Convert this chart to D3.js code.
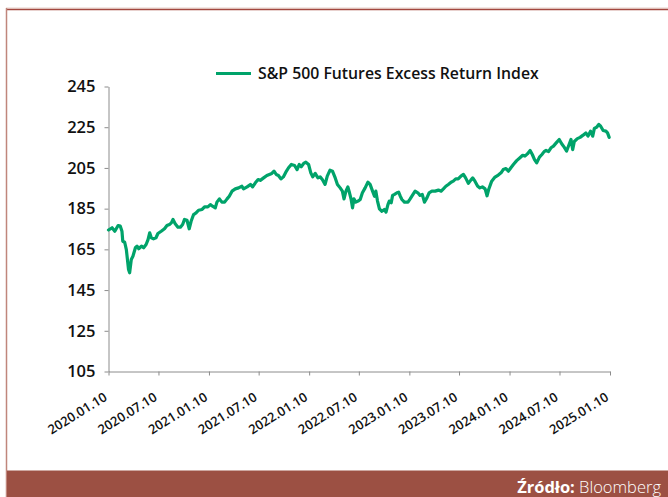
<!DOCTYPE html>
<html lang="pl">
<head>
<meta charset="UTF-8">
<title>S&amp;P 500 Futures Excess Return Index</title>
<style>
  body { margin: 0; background: #fff; }
  .axis path, .axis line { stroke: #8c8c8c; }
  .axis text { fill: #111; font-family: "Open Sans", sans-serif; }
</style>
</head>
<body>
<svg width="668" height="497"></svg>

<script src="https://d3js.org/d3.v7.min.js"></script>
<script>

// weekly-ish closes
var dates = [
  "2020-01-10","2020-01-23","2020-02-02","2020-02-14","2020-02-22","2020-02-28","2020-03-02","2020-03-09",
  "2020-03-15","2020-03-23","2020-03-27","2020-04-02","2020-04-08","2020-04-17","2020-04-23","2020-04-29",
  "2020-05-09","2020-05-17","2020-05-26","2020-06-02","2020-06-08","2020-06-14","2020-06-22","2020-07-01",
  "2020-07-08","2020-07-20","2020-08-01","2020-08-10","2020-08-19","2020-08-26","2020-09-01","2020-09-09",
  "2020-09-19","2020-09-28","2020-10-06","2020-10-13","2020-10-22","2020-10-30","2020-11-06","2020-11-15",
  "2020-11-24","2020-12-03","2020-12-16","2020-12-25","2021-01-06","2021-01-15","2021-01-23","2021-02-02",
  "2021-02-08","2021-02-17","2021-02-26","2021-03-08","2021-03-17","2021-03-25","2021-04-04","2021-04-16",
  "2021-04-28","2021-05-10","2021-05-16","2021-05-29","2021-06-10","2021-06-18","2021-06-28","2021-07-08",
  "2021-07-16","2021-07-28","2021-08-09","2021-08-18","2021-08-27","2021-09-04","2021-09-12","2021-09-20",
  "2021-09-29","2021-10-08","2021-10-17","2021-10-27","2021-11-06","2021-11-18","2021-11-27","2021-12-05",
  "2021-12-12","2021-12-21","2021-12-29","2022-01-08","2022-01-16","2022-01-23","2022-02-01","2022-02-11",
  "2022-02-19","2022-02-27","2022-03-09","2022-03-17","2022-03-27","2022-04-05","2022-04-15","2022-04-23",
  "2022-05-03","2022-05-11","2022-05-17","2022-05-24","2022-05-31","2022-06-06","2022-06-12","2022-06-17",
  "2022-06-22","2022-06-29","2022-07-07","2022-07-15","2022-07-23","2022-08-02","2022-08-12","2022-08-20",
  "2022-08-29","2022-09-05","2022-09-10","2022-09-16","2022-09-23","2022-10-02","2022-10-11","2022-10-17",
  "2022-10-24","2022-10-29","2022-11-05","2022-11-10","2022-11-17","2022-11-26","2022-12-02","2022-12-08",
  "2022-12-14","2022-12-23","2023-01-05","2023-01-13","2023-01-21","2023-01-31","2023-02-10","2023-02-18",
  "2023-02-26","2023-03-06","2023-03-15","2023-03-23","2023-04-02","2023-04-14","2023-04-26","2023-05-06",
  "2023-05-14","2023-05-23","2023-06-01","2023-06-11","2023-06-19","2023-06-28","2023-07-07","2023-07-17",
  "2023-07-26","2023-08-03","2023-08-13","2023-08-22","2023-08-29","2023-09-06","2023-09-16","2023-09-24",
  "2023-10-03","2023-10-13","2023-10-20","2023-10-26","2023-11-06","2023-11-18","2023-11-30","2023-12-10",
  "2023-12-18","2023-12-28","2024-01-06","2024-01-15","2024-01-24","2024-02-05","2024-02-17","2024-02-27",
  "2024-03-06","2024-03-15","2024-03-25","2024-04-02","2024-04-10","2024-04-18","2024-04-28","2024-05-07",
  "2024-05-15","2024-05-22","2024-05-31","2024-06-09","2024-06-18","2024-06-28","2024-07-09","2024-07-18",
  "2024-07-27","2024-08-05","2024-08-15","2024-08-21","2024-08-27","2024-09-02","2024-09-13","2024-09-23",
  "2024-10-04","2024-10-14","2024-10-22","2024-10-31","2024-11-08","2024-11-14","2024-11-23","2024-11-30",
  "2024-12-07","2024-12-16","2024-12-26","2025-01-01","2025-01-07"
];

var indexValues = [
  174.5,175.6,173.9,176.7,176.4,173.9,169.0,168.5,
  164.9,155.1,153.5,160.0,161.6,165.8,166.6,165.3,
  166.6,165.8,167.4,169.8,173.1,170.7,170.2,170.7,
  172.8,173.9,175.1,176.7,177.2,178.0,179.7,177.6,
  175.9,175.9,177.2,179.7,179.3,175.1,178.8,182.1,
  182.9,184.2,184.6,185.9,185.9,187.0,186.2,185.4,
  188.2,189.8,188.2,188.2,189.8,191.1,193.6,194.7,
  195.2,196.0,194.7,195.7,196.9,195.7,197.7,199.3,
  198.9,200.1,201.3,201.8,202.3,203.4,201.8,201.3,
  199.6,200.6,202.9,205.1,206.7,206.2,204.2,206.7,
  205.6,207.2,207.8,206.7,202.6,200.6,202.3,200.1,
  200.6,199.3,196.9,201.0,203.9,203.4,200.1,196.9,
  195.2,193.6,189.8,193.6,195.7,192.8,189.5,185.4,
  189.8,188.2,188.7,189.5,192.8,195.2,198.0,196.9,
  193.6,191.1,193.6,188.7,184.9,183.7,184.6,183.3,
  187.0,188.7,187.9,191.5,192.0,192.8,193.1,191.1,
  189.5,188.2,188.2,189.8,191.5,193.6,192.8,191.5,
  192.0,188.2,190.3,192.8,193.6,193.6,194.1,193.6,
  194.7,196.0,196.9,198.0,198.5,199.6,199.6,201.0,
  201.8,200.1,197.4,199.0,200.1,198.5,196.0,195.2,
  195.7,194.7,191.3,194.4,198.5,200.5,201.5,202.6,
  204.2,204.7,203.4,205.1,206.7,208.6,210.0,211.2,
  210.8,211.9,213.6,211.6,209.1,207.5,210.3,211.6,
  213.0,213.6,213.0,214.9,215.7,217.3,219.0,216.9,
  215.2,213.3,216.9,219.0,214.0,218.0,219.4,220.0,
  221.1,222.2,220.6,223.1,220.6,224.4,225.1,226.4,
  225.5,223.4,223.1,222.2,220.0
];

var xTickDates = ["2020-01-10","2020-07-10","2021-01-10","2021-07-10","2022-01-10","2022-07-10",
                  "2023-01-10","2023-07-10","2024-01-10","2024-07-10","2025-01-10"];
var yTicks = [105, 125, 145, 165, 185, 205, 225, 245];

var seriesName = "S&P 500 Futures Excess Return Index";
var sourceLabel = "Źródło:";
var sourceName = "Bloomberg";

var green = "#00a36a";
var parseDate = d3.timeParse("%Y-%m-%d");

var data = dates.map(function(d, i) {
  return { date: parseDate(d), value: indexValues[i] };
});

var svg = d3.select("svg");
var W = +svg.attr("width"), H = +svg.attr("height");

// frame + footer band
svg.append("line").attr("x1", 6).attr("x2", W).attr("y1", 8).attr("y2", 8)
  .attr("stroke", "#e6cfc8").attr("stroke-width", 1);
svg.append("line").attr("x1", 6).attr("x2", W).attr("y1", 9.5).attr("y2", 9.5)
  .attr("stroke", "#a3473f").attr("stroke-width", 1.6);
svg.append("line").attr("x1", 6.5).attr("x2", 6.5).attr("y1", 8).attr("y2", H)
  .attr("stroke", "#c0867c").attr("stroke-width", 1.5);

svg.append("rect")
  .attr("x", 7).attr("y", 470.5).attr("width", W - 7).attr("height", H - 470.5)
  .attr("fill", "#9c5043");

var src = svg.append("text")
  .attr("x", 661).attr("y", 492.5)
  .attr("text-anchor", "end")
  .attr("fill", "#fff")
  .style("font-family", "'Open Sans', sans-serif")
  .style("font-size", "16.5px");
src.append("tspan").attr("font-weight", 700).text(sourceLabel + " ");
src.append("tspan").attr("font-weight", 300).text(sourceName);

// scales
var x = d3.scaleTime()
  .domain([parseDate(xTickDates[0]), parseDate(xTickDates[xTickDates.length - 1])])
  .range([108.5, 610]);
var y = d3.scaleLinear().domain([105, 245]).range([371.5, 86.5]);

var xAxis = d3.axisBottom(x)
  .tickValues(xTickDates.map(parseDate))
  .tickFormat(d3.timeFormat("%Y.%m.%d"))
  .tickSize(4).tickSizeOuter(0);

var yAxis = d3.axisLeft(y)
  .tickValues(yTicks)
  .tickSize(4).tickSizeOuter(0);

var gx = svg.append("g")
  .attr("class", "x axis")
  .attr("transform", "translate(0," + 371.5 + ")")
  .call(xAxis);
gx.selectAll("text")
  .attr("x", 0).attr("y", 0).attr("dy", 0)
  .style("text-anchor", "end")
  .style("font-size", "13px")
  .style("font-weight", 600)
  .attr("transform", "translate(-1,28) rotate(-32)");

var gy = svg.append("g")
  .attr("class", "y axis")
  .attr("transform", "translate(" + 108.5 + ",0)")
  .call(yAxis);
gy.selectAll("text")
  .attr("x", -13)
  .style("font-size", "16.5px")
  .style("font-weight", 600);

// the series
var line = d3.line()
  .x(function(d) { return x(d.date); })
  .y(function(d) { return y(d.value); });

svg.append("path")
  .datum(data)
  .attr("fill", "none")
  .attr("stroke", green)
  .attr("stroke-width", 3.2)
  .attr("stroke-linejoin", "round")
  .attr("stroke-linecap", "round")
  .attr("d", line);

// legend
var legend = svg.append("g").attr("transform", "translate(216,73.5)");
legend.append("line").attr("x1", 0).attr("x2", 35)
  .attr("stroke", green).attr("stroke-width", 3.2);
legend.append("text")
  .attr("x", 42).attr("y", 5.5)
  .attr("fill", "#111")
  .style("font-family", "'Open Sans', sans-serif")
  .style("font-size", "15.8px")
  .style("font-weight", 600)
  .text(seriesName);

</script>
</body>
</html>
